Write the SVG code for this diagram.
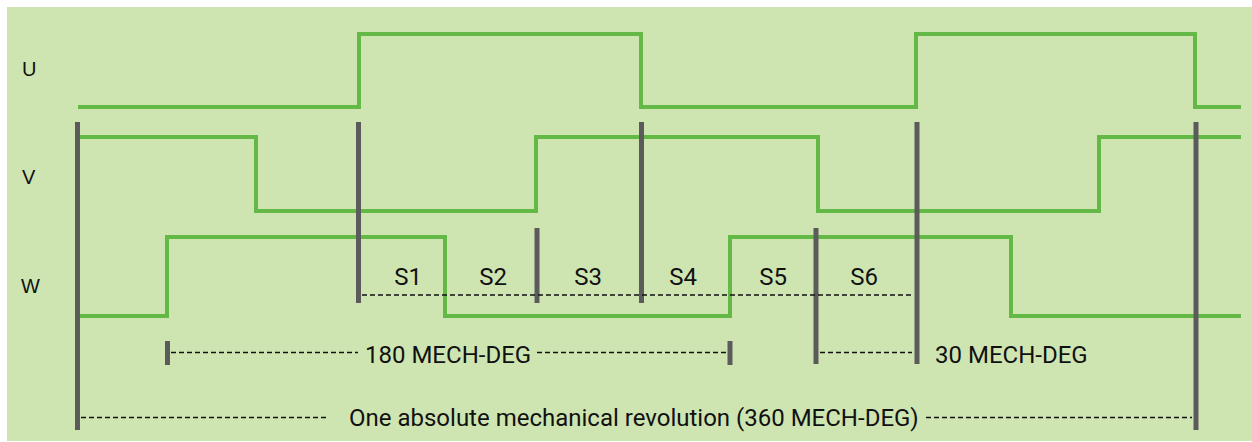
<svg xmlns="http://www.w3.org/2000/svg" width="1252" height="442" viewBox="0 0 1252 442">
<style>
.wave{fill:none;stroke:#64b946;stroke-width:4;stroke-linejoin:miter;stroke-linecap:butt}
.bar{stroke:#5b5b5b;stroke-width:5}
.dash{stroke:#111;stroke-width:1.6;stroke-dasharray:5 3;fill:none}
.lbl{font-family:"Liberation Sans",Arial,sans-serif;font-size:20px;fill:#111}
.txt{font-family:Roboto,"Noto Sans",sans-serif;font-size:24px;fill:#111}
</style>
<rect x="7" y="7" width="1245" height="434" fill="#cfe5b1"/>
<g id="labels">
<text class="lbl" x="22" y="76">U</text>
<text class="lbl" x="22" y="184">V</text>
<text class="lbl" x="21" y="293">W</text>
</g>
<g id="wave-U"><polyline class="wave" points="78,107 359,107 359,34 641,34 641,107 916,107 916,34 1195,34 1195,107 1241,107"/></g>
<g id="wave-V"><polyline class="wave" points="78,137 256,137 256,211 536,211 536,137 818,137 818,211 1099,211 1099,137 1241,137"/></g>
<g id="wave-W"><polyline class="wave" points="78,316 167,316 167,237 445,237 445,316 730,316 730,237 1011,237 1011,316 1241,316"/></g>
<g id="connectors">
<line class="bar" x1="77.5" y1="122" x2="77.5" y2="430"/>
<line class="bar" x1="358.5" y1="122" x2="358.5" y2="303"/>
<line class="bar" x1="537" y1="228" x2="537" y2="303"/>
<line class="bar" x1="641.5" y1="122" x2="641.5" y2="303"/>
<line class="bar" x1="816" y1="228" x2="816" y2="364"/>
<line class="bar" x1="917" y1="122" x2="917" y2="364"/>
<line class="bar" x1="1196" y1="122" x2="1196" y2="430"/>
<line class="bar" x1="167.5" y1="341" x2="167.5" y2="365"/>
<line class="bar" x1="730" y1="341" x2="730" y2="365"/>
<line class="dash" x1="362" y1="295" x2="912" y2="295"/>
<line class="dash" x1="171" y1="352.5" x2="358" y2="352.5"/>
<line class="dash" x1="537" y1="352.5" x2="728" y2="352.5"/>
<line class="dash" x1="820" y1="352.5" x2="912" y2="352.5"/>
<line class="dash" x1="81" y1="417.5" x2="329" y2="417.5"/>
<line class="dash" x1="926" y1="417.5" x2="1192" y2="417.5"/>
</g>
<g id="sectors">
<text class="txt" x="408" y="285" text-anchor="middle">S1</text>
<text class="txt" x="493" y="285" text-anchor="middle">S2</text>
<text class="txt" x="588" y="285" text-anchor="middle">S3</text>
<text class="txt" x="683" y="285" text-anchor="middle">S4</text>
<text class="txt" x="773" y="285" text-anchor="middle">S5</text>
<text class="txt" x="864" y="285" text-anchor="middle">S6</text>
</g>
<g id="measures">
<text class="txt" x="365" y="362.5">180 MECH-DEG</text>
<text class="txt" x="935" y="362.5">30 MECH-DEG</text>
<text class="txt" x="349" y="426">One absolute mechanical revolution (360 MECH-DEG)</text>
</g>
</svg>
